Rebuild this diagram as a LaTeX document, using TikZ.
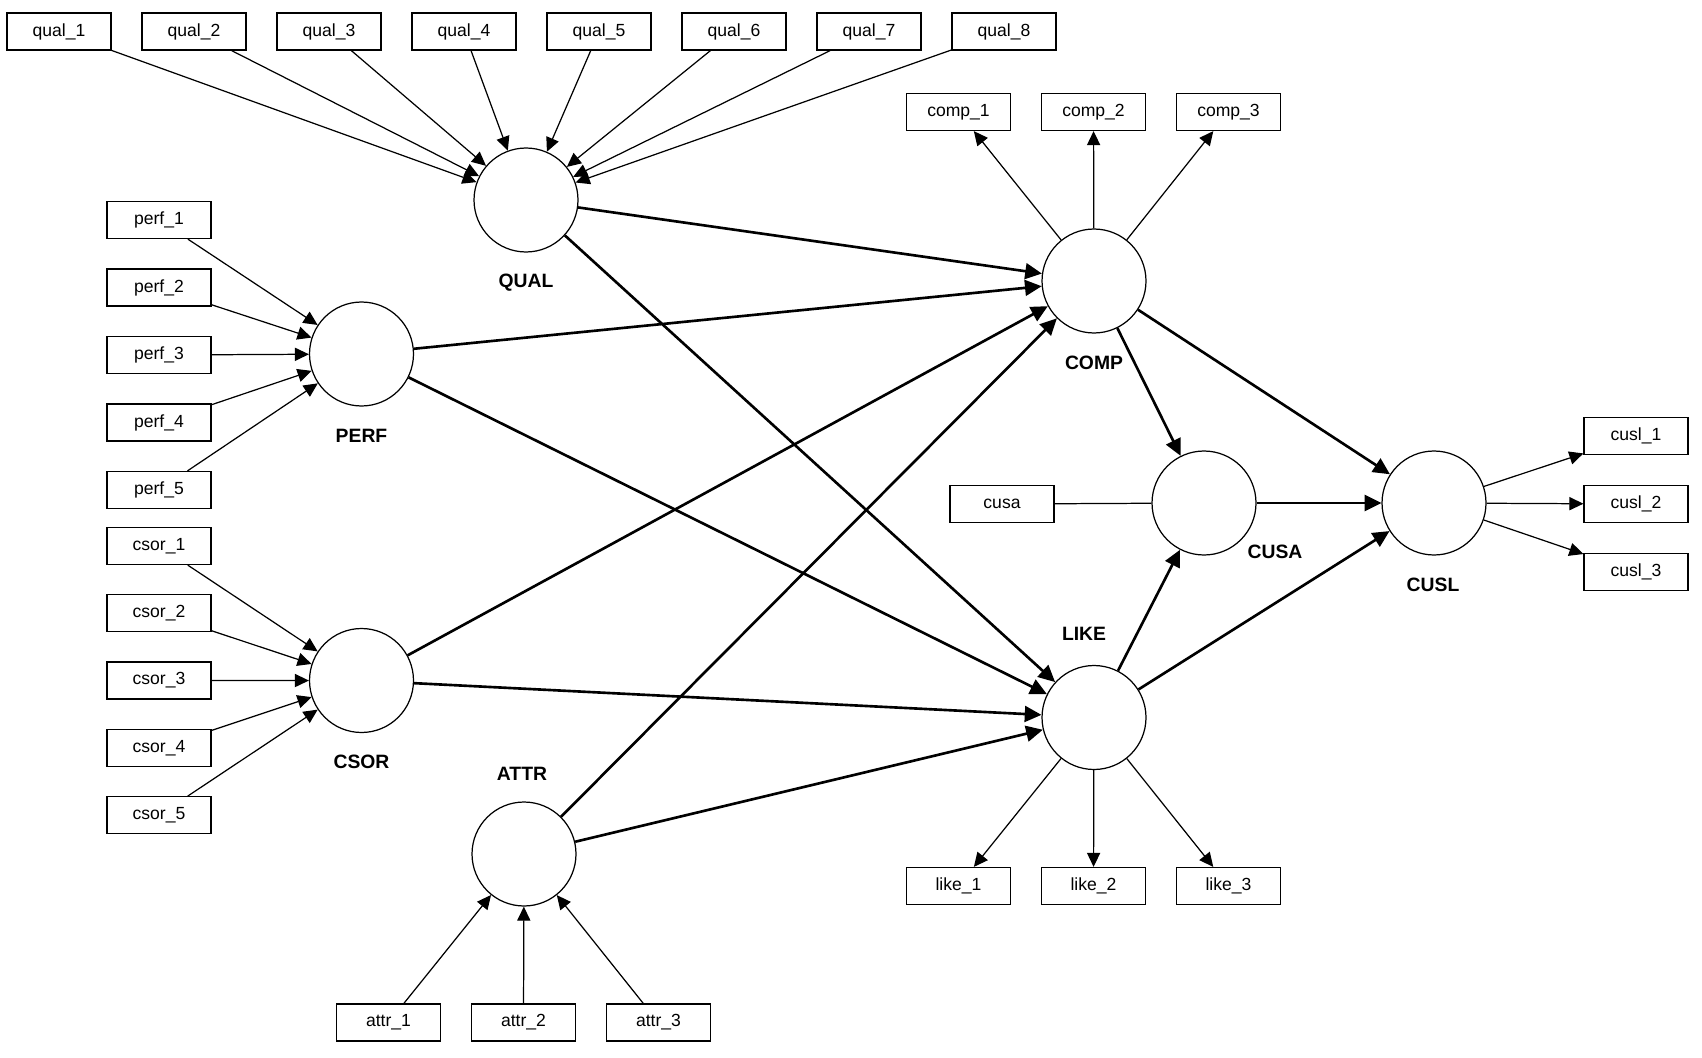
\documentclass[tikz,border=0pt]{standalone}
\usepackage{fontspec}
\setmainfont{Liberation Sans}
\usetikzlibrary{arrows.meta}

\tikzset{
  indicador/.style={draw, line width=0.7pt, minimum width=2.08cm, minimum height=0.74cm,
    inner sep=0pt, font=\fontsize{10}{12}\selectfont},
  latente/.style={draw, circle, line width=0.7pt, minimum size=2.08cm, inner sep=0pt},
  etiqueta/.style={font=\fontsize{11}{13}\selectfont\bfseries},
  carga/.style={line width=0.7pt, -{Triangle[length=8pt,width=7.5pt]}},
  ruta/.style={line width=1.5pt, -{Triangle[length=9.5pt,width=9pt]}}
}

\begin{document}
\begin{tikzpicture}[x=0.02cm, y=-0.02cm]
    \useasboundingbox (0,0) rectangle (1702,1057);
    % Variables latentes
    \node[latente] (QUAL) at (526,200) {};
    \node[latente] (COMP) at (1094,281) {};
    \node[latente] (PERF) at (361.5,354) {};
    \node[latente] (CSOR) at (361.5,680.5) {};
    \node[latente] (ATTR) at (524,854) {};
    \node[latente] (LIKE) at (1094,717.5) {};
    \node[latente] (CUSA) at (1204,503) {};
    \node[latente] (CUSL) at (1434,503) {};
    % Nombres de las latentes
    \node[etiqueta] (lQUAL) at (526,283) {QUAL};
    \node[etiqueta] (lCOMP) at (1094,363) {COMP};
    \node[etiqueta] (lPERF) at (361.5,436) {PERF};
    \node[etiqueta] (lCSOR) at (361.5,762) {CSOR};
    \node[etiqueta] (lATTR) at (522,774) {ATTR};
    \node[etiqueta] (lLIKE) at (1084,634) {LIKE};
    \node[etiqueta] (lCUSA) at (1275,552) {CUSA};
    \node[etiqueta] (lCUSL) at (1433,585) {CUSL};
    % Indicadores formativos (hacia la latente)
    \foreach \i in {1,...,8}
        \node[indicador] (qual\i) at ({59+135*(\i-1)},31.5) {qual\_\i};
    \foreach \i in {1,...,5} {
        \node[indicador] (perf\i) at (159,{220+67.5*(\i-1)}) {perf\_\i};
        \node[indicador] (csor\i) at (159,{546+67.3*(\i-1)}) {csor\_\i};
    }
    \foreach \i in {1,...,3}
        \node[indicador] (attr\i) at ({388.5+135*(\i-1)},1022.5) {attr\_\i};
    % Indicadores reflectivos (desde la latente)
    \foreach \i in {1,...,3} {
        \node[indicador] (comp\i) at ({958.5+135*(\i-1)},112) {comp\_\i};
        \node[indicador] (like\i) at ({958.5+135*(\i-1)},886) {like\_\i};
        \node[indicador] (cusl\i) at (1636,{436+68*(\i-1)}) {cusl\_\i};
    }
    \node[indicador] (cusa) at (1002,504) {cusa};
    % Cargas
    \foreach \i in {1,...,8}
        \draw[carga] (qual\i) -- (QUAL);
    \foreach \i in {1,...,5} {
        \draw[carga] (perf\i) -- (PERF);
        \draw[carga] (csor\i) -- (CSOR);
    }
    \foreach \i in {1,...,3} {
        \draw[carga] (attr\i) -- (ATTR);
        \draw[carga] (COMP) -- (comp\i);
        \draw[carga] (LIKE) -- (like\i);
        \draw[carga] (CUSL) -- (cusl\i);
    }
    \draw[line width=0.7pt] (cusa) -- (CUSA);
    % Modelo estructural
    \foreach \a in {QUAL,PERF,CSOR,ATTR} {
        \draw[ruta] (\a) -- (COMP);
        \draw[ruta] (\a) -- (LIKE);
    }
    \draw[ruta] (COMP) -- (CUSA);
    \draw[ruta] (LIKE) -- (CUSA);
    \draw[ruta] (COMP) -- (CUSL);
    \draw[ruta] (LIKE) -- (CUSL);
    \draw[ruta] (CUSA) -- (CUSL);
\end{tikzpicture}
\end{document}
